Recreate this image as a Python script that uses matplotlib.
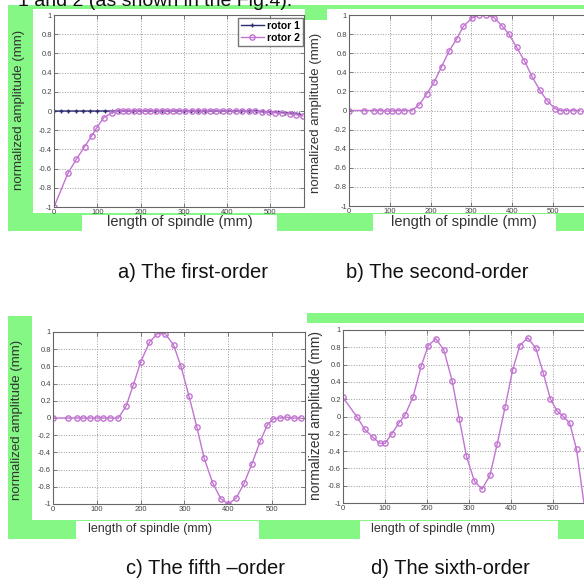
import matplotlib
matplotlib.use('Agg')
import matplotlib.pyplot as plt
from matplotlib.patches import Rectangle

plt.rcParams['font.family'] = ['Liberation Sans', 'DejaVu Sans']
plt.rcParams['axes.unicode_minus'] = False

# 数据
# a) 一阶
a_r1_x = [0, 17, 33, 50, 67, 83, 100, 117, 133, 150, 167, 183, 200, 217, 233, 250, 267, 283,
          300, 317, 333, 350, 367, 383, 400, 417, 433, 450, 467, 483, 500, 517, 533, 550, 567]
a_r1_y = [0, 0, 0, 0, 0, 0, 0, 0, 0, 0, 0, 0, 0, 0, 0, 0, 0, 0,
          0, 0, 0, 0, 0, 0, 0, 0, 0, 0, 0, -0.005, -0.01, -0.01, -0.02, -0.02, -0.03]
a_r2_x = [0, 32, 52, 71, 87, 98, 115, 133, 148, 160, 172, 185, 197, 210, 222, 235, 250, 262,
          275, 290, 303, 318, 332, 347, 360, 375, 390, 405, 420, 435, 450, 465, 480, 497, 512,
          528, 545, 560, 575]
a_r2_y = [-1, -0.65, -0.5, -0.37, -0.26, -0.18, -0.07, -0.02, 0, 0, 0, 0, 0, 0, 0, 0, 0, 0,
          0, 0, 0, 0, 0, 0, 0, 0, 0, 0, 0, 0, 0, -0.005, -0.01, -0.01, -0.02,
          -0.02, -0.03, -0.04, -0.05]

# b) 二阶
b_x = [0, 37, 62, 76, 92, 105, 119, 136, 154, 172, 190, 209, 227, 245, 264, 280, 302, 319,
       337, 356, 374, 392, 411, 430, 448, 468, 486, 505, 517, 533, 550, 566]
b_y = [0, 0, 0, 0, -0.005, -0.005, 0, 0, 0, 0.06, 0.17, 0.30, 0.46, 0.62, 0.75, 0.88, 0.97, 1.0,
       1.0, 0.97, 0.89, 0.80, 0.66, 0.52, 0.36, 0.21, 0.10, 0.02, 0, 0, 0, 0]

# c) 五阶
c_x = [0, 35, 54, 69, 84, 100, 115, 130, 149, 167, 183, 200, 220, 238, 256, 275, 292, 310,
       328, 345, 364, 383, 400, 418, 436, 454, 473, 489, 503, 518, 533, 549, 565]
c_y = [0, 0, 0, 0, 0, 0, 0, 0, 0, 0.14, 0.38, 0.65, 0.88, 0.98, 0.98, 0.85, 0.60, 0.26,
       -0.10, -0.47, -0.75, -0.94, -1.0, -0.93, -0.76, -0.53, -0.27, -0.08, -0.01, 0, 0.01, 0, 0]

# d) 六阶
d_x = [0, 34, 52, 71, 88, 100, 116, 134, 148, 167, 186, 203, 221, 240, 260, 277, 294, 313,
       331, 350, 367, 386, 404, 421, 440, 459, 477, 494, 510, 523, 540, 556, 575]
d_y = [0.22, -0.01, -0.15, -0.24, -0.31, -0.31, -0.20, -0.07, 0.02, 0.23, 0.58, 0.82, 0.90,
       0.77, 0.41, -0.03, -0.46, -0.75, -0.84, -0.68, -0.32, 0.11, 0.54, 0.82, 0.91, 0.79,
       0.50, 0.20, 0.06, 0.01, -0.08, -0.38, -1.05]

x_ticks = [0, 100, 200, 300, 400, 500]
y_ticks = [-1, -0.8, -0.6, -0.4, -0.2, 0, 0.2, 0.4, 0.6, 0.8, 1]
y_tick_labels = ['-1', '-0.8', '-0.6', '-0.4', '-0.2', '0', '0.2', '0.4', '0.6', '0.8', '1']

W, H = 584, 585
GREEN = '#84f784'
VIOLET = '#c274d2'
NAVY = '#2c2c70'

fig = plt.figure(figsize=(W / 100, H / 100), dpi=100)


def box(x0, y0, x1, y1, color):
    # 像素坐标（左上角为原点）
    fig.add_artist(Rectangle((x0 / W, 1 - y1 / H), (x1 - x0) / W, (y1 - y0) / H,
                             transform=fig.transFigure, facecolor=color,
                             edgecolor='none', zorder=-5))


def make_ax(l, r, t, b, xmax):
    ax = fig.add_axes([l / W, 1 - b / H, (r - l) / W, (b - t) / H])
    ax.set_xlim(0, xmax)
    ax.set_ylim(-1, 1)
    ax.set_xticks(x_ticks)
    ax.set_yticks(y_ticks)
    ax.set_yticklabels(y_tick_labels)
    ax.grid(True, linestyle=':', color='#9a9a9a', linewidth=0.7)
    ax.tick_params(direction='in', length=3, width=0.6, colors='#666', labelsize=5.5,
                   labelcolor='#444', top=True, right=True, pad=1.5)
    for s in ax.spines.values():
        s.set_color('#666')
        s.set_linewidth(0.8)
    return ax


# 背景色块
box(8, 5, 584, 231, GREEN)
box(33, 9, 305, 213, 'white')
box(305, 20, 327, 213, 'white')
box(327, 9, 584, 213, 'white')
box(82, 215, 277, 231, 'white')
box(373, 214, 556, 231, 'white')

box(8, 316, 32, 539, GREEN)
box(307, 313, 584, 323, GREEN)
box(8, 520, 584, 539, GREEN)
box(76, 521, 259, 539, 'white')
box(360, 521, 558, 539, 'white')

# 顶部被截断的正文
fig.text(18 / W, 1 - 6 / H, '1 and 2 (as shown in the Fig.4).', fontsize=14,
         va='baseline', ha='left', color='#111')

# a
ax_a = make_ax(54, 304, 15, 207, 578)
ax_a.plot(a_r1_x, a_r1_y, '-+', color=NAVY, markersize=3.5, linewidth=1, label='rotor 1')
ax_a.plot(a_r2_x, a_r2_y, '-o', color=VIOLET, markersize=3.8, markerfacecolor='none',
          linewidth=1, label='rotor 2')
ax_a.legend(loc='upper right', bbox_to_anchor=(303 / W, 1 - 18 / H),
            bbox_transform=fig.transFigure, prop={'weight': 'bold', 'size': 7.5},
            frameon=True, fancybox=False, edgecolor='#555', borderpad=0.3,
            labelspacing=0.15, handlelength=2.2, handletextpad=0.3, borderaxespad=0)

# b
ax_b = make_ax(349, 349 + 0.408 * 580, 15, 206, 580)
ax_b.plot(b_x, b_y, '-o', color=VIOLET, markersize=3.8, markerfacecolor='none', linewidth=1)

# c
ax_c = make_ax(53, 305, 332, 504, 575)
ax_c.plot(c_x, c_y, '-o', color=VIOLET, markersize=3.8, markerfacecolor='none', linewidth=1)

# d
ax_d = make_ax(343, 343 + 0.42 * 580, 330, 503, 580)
ax_d.plot(d_x, d_y, '-o', color=VIOLET, markersize=3.8, markerfacecolor='none', linewidth=1)

# 轴标签
ylab = 'normalized amplitude (mm)'
xlab = 'length of spindle (mm)'
fig.text(19 / W, 1 - 110 / H, ylab, rotation=90, ha='center', va='center', fontsize=9.5, color='#333')
fig.text(316 / W, 1 - 113 / H, ylab, rotation=90, ha='center', va='center', fontsize=9.5, color='#333')
fig.text(17 / W, 1 - 420 / H, ylab, rotation=90, ha='center', va='center', fontsize=9.5, color='#333')
fig.text(316 / W, 1 - 416 / H, ylab, rotation=90, ha='center', va='center', fontsize=10, color='#333')

fig.text(180 / W, 1 - 222 / H, xlab, ha='center', va='center', fontsize=10.5, color='#333')
fig.text(464 / W, 1 - 222 / H, xlab, ha='center', va='center', fontsize=10.5, color='#333')
fig.text(150 / W, 1 - 529 / H, xlab, ha='center', va='center', fontsize=9, color='#333')
fig.text(433 / W, 1 - 529 / H, xlab, ha='center', va='center', fontsize=9, color='#333')

# 子图标题
fig.text(193 / W, 1 - 272 / H, 'a) The first-order', ha='center', va='center', fontsize=14.5, color='#111')
fig.text(437 / W, 1 - 272 / H, 'b) The second-order', ha='center', va='center', fontsize=14.5, color='#111')
fig.text(205 / W, 1 - 568 / H, 'c) The fifth \u2013order', ha='center', va='center', fontsize=14.5, color='#111')
fig.text(450 / W, 1 - 568 / H, 'd) The sixth-order', ha='center', va='center', fontsize=14.5, color='#111')

fig.savefig('out.png', dpi=100)
